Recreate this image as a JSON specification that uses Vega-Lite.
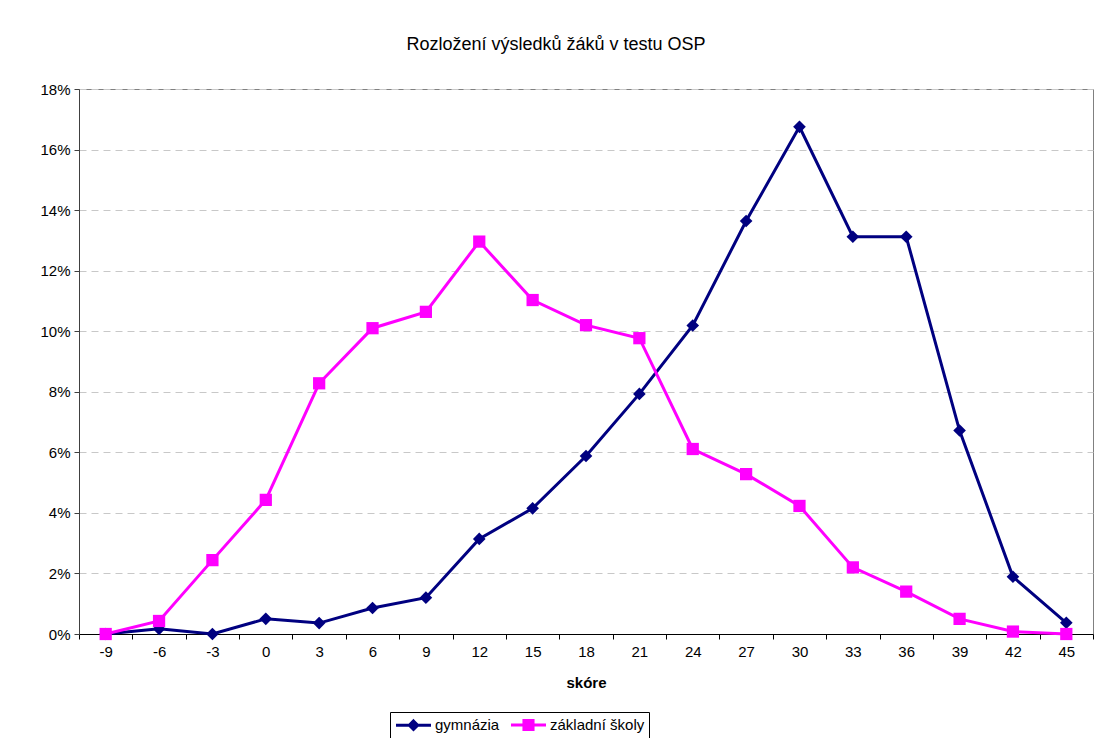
{
  "$schema": "https://vega.github.io/schema/vega-lite/v6.json",
  "autosize": "none",
  "width": 1014,
  "height": 545,
  "padding": {"left": 79, "top": 89, "right": 8, "bottom": 104},
  "background": "white",
  "config": {
    "font": "Liberation Sans",
    "view": {"stroke": "#808080", "strokeWidth": 1}
  },
  "title": {
    "text": "Rozložení výsledků žáků v testu OSP",
    "fontSize": 18,
    "fontWeight": "normal",
    "font": "Liberation Sans",
    "color": "black",
    "anchor": "middle",
    "frame": "group",
    "dx": -30,
    "offset": 28
  },
  "data": {
    "values": [
      {"score": "-9", "series": "gymnázia", "pct": 0.0},
      {"score": "-6", "series": "gymnázia", "pct": 0.0017},
      {"score": "-3", "series": "gymnázia", "pct": 0.0},
      {"score": "0", "series": "gymnázia", "pct": 0.005},
      {"score": "3", "series": "gymnázia", "pct": 0.0036},
      {"score": "6", "series": "gymnázia", "pct": 0.0086},
      {"score": "9", "series": "gymnázia", "pct": 0.012},
      {"score": "12", "series": "gymnázia", "pct": 0.0314},
      {"score": "15", "series": "gymnázia", "pct": 0.0415},
      {"score": "18", "series": "gymnázia", "pct": 0.0588},
      {"score": "21", "series": "gymnázia", "pct": 0.0793},
      {"score": "24", "series": "gymnázia", "pct": 0.1019},
      {"score": "27", "series": "gymnázia", "pct": 0.1364},
      {"score": "30", "series": "gymnázia", "pct": 0.1675},
      {"score": "33", "series": "gymnázia", "pct": 0.1312},
      {"score": "36", "series": "gymnázia", "pct": 0.1312},
      {"score": "39", "series": "gymnázia", "pct": 0.0672},
      {"score": "42", "series": "gymnázia", "pct": 0.0189},
      {"score": "45", "series": "gymnázia", "pct": 0.0037},
      {"score": "-9", "series": "základní školy", "pct": 0.0},
      {"score": "-6", "series": "základní školy", "pct": 0.0043},
      {"score": "-3", "series": "základní školy", "pct": 0.0244},
      {"score": "0", "series": "základní školy", "pct": 0.0443},
      {"score": "3", "series": "základní školy", "pct": 0.0828},
      {"score": "6", "series": "základní školy", "pct": 0.101},
      {"score": "9", "series": "základní školy", "pct": 0.1064},
      {"score": "12", "series": "základní školy", "pct": 0.1296},
      {"score": "15", "series": "základní školy", "pct": 0.1103},
      {"score": "18", "series": "základní školy", "pct": 0.102},
      {"score": "21", "series": "základní školy", "pct": 0.0977},
      {"score": "24", "series": "základní školy", "pct": 0.0611},
      {"score": "27", "series": "základní školy", "pct": 0.0528},
      {"score": "30", "series": "základní školy", "pct": 0.0423},
      {"score": "33", "series": "základní školy", "pct": 0.022},
      {"score": "36", "series": "základní školy", "pct": 0.014},
      {"score": "39", "series": "základní školy", "pct": 0.005},
      {"score": "42", "series": "základní školy", "pct": 0.0008},
      {"score": "45", "series": "základní školy", "pct": 0.0}
    ]
  },
  "encoding": {
    "x": {
      "field": "score",
      "type": "ordinal",
      "sort": ["-9","-6","-3","0","3","6","9","12","15","18","21","24","27","30","33","36","39","42","45"],
      "scale": {"type": "band", "paddingInner": 0, "paddingOuter": 0},
      "axis": {
        "title": "skóre",
        "titleFont": "Liberation Sans",
        "titleFontSize": 15,
        "titleFontWeight": "bold",
        "titleColor": "black",
        "titlePadding": 16,
        "labelAngle": 0,
        "labelFont": "Liberation Sans",
        "labelFontSize": 15,
        "labelColor": "black",
        "labelPadding": 5,
        "tickBand": "extent",
        "tickSize": 5,
        "tickColor": "black",
        "domainColor": "black",
        "domainWidth": 1,
        "grid": false
      }
    },
    "y": {
      "field": "pct",
      "type": "quantitative",
      "scale": {"domain": [0, 0.18], "nice": false, "zero": true},
      "axis": {
        "title": null,
        "values": [0, 0.02, 0.04, 0.06, 0.08, 0.1, 0.12, 0.14, 0.16, 0.18],
        "format": ".0%",
        "labelFont": "Liberation Sans",
        "labelFontSize": 15,
        "labelColor": "black",
        "labelPadding": 4,
        "tickSize": 5,
        "tickColor": "#404040",
        "domainColor": "#404040",
        "grid": true,
        "gridColor": "#c8c8c8",
        "gridDash": [7, 5],
        "gridWidth": 1
      }
    }
  },
  "layer": [
    {
      "mark": {"type": "line", "strokeWidth": 3},
      "encoding": {
        "color": {
          "field": "series",
          "type": "nominal",
          "scale": {"domain": ["gymnázia", "základní školy"], "range": ["#000080", "#FF00FF"]},
          "legend": {
            "title": null,
            "orient": "none",
            "legendX": 311,
            "legendY": 623,
            "direction": "horizontal",
            "strokeColor": "black",
            "fillColor": "white",
            "padding": 4,
            "labelFont": "Liberation Sans",
            "labelFontSize": 15,
            "labelColor": "black",
            "labelOffset": 13,
            "symbolOffset": 11,
            "columnPadding": 5,
            "symbolSize": 196,
            "symbolStrokeWidth": 3,
            "encode": {
              "symbols": {
                "update": {
                  "shape": {"signal": "datum.value === 'gymnázia' ? 'M-2.5,0H2.5M0,-0.6L0.6,0L0,0.6L-0.6,0Z' : 'M-2.5,0H2.5M-0.65,-0.65H0.65V0.65H-0.65Z'"},
                  "fill": {"signal": "datum.value === 'gymnázia' ? '#000080' : '#FF00FF'"},
                  "stroke": {"signal": "datum.value === 'gymnázia' ? '#000080' : '#FF00FF'"},
                  "strokeWidth": {"value": 3},
                  "opacity": {"value": 1},
                  "fillOpacity": {"value": 1}
                }
              }
            }
          }
        }
      }
    },
    {
      "transform": [{"filter": "datum.series === 'gymnázia'"}],
      "mark": {"type": "point", "shape": "diamond", "filled": true, "opacity": 1, "size": 160, "color": "#000080"}
    },
    {
      "transform": [{"filter": "datum.series === 'základní školy'"}],
      "mark": {"type": "point", "shape": "square", "filled": true, "opacity": 1, "size": 150, "color": "#FF00FF"}
    }
  ]
}
